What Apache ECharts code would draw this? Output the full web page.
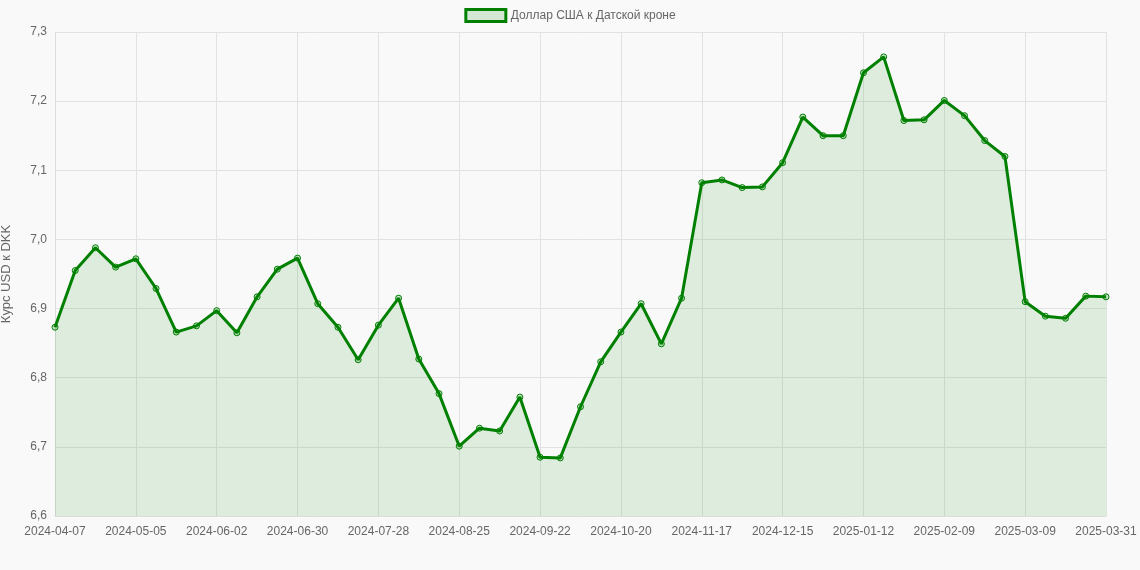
<!DOCTYPE html>
<html><head><meta charset="utf-8">
<script src="https://cdn.jsdelivr.net/npm/echarts@6/dist/echarts.min.js"></script>
<style>html,body{margin:0;background:#f9f9f9}#c{width:1140px;height:570px}</style>
</head><body><div id="c"></div>
<script>
const seriesName = 'Доллар США к Датской кроне';
const dates = [];
(function () {
  const d = new Date(Date.UTC(2024, 3, 7));
  for (let i = 0; i < 52; i++) {
    dates.push(new Date(d.getTime() + i * 7 * 864e5).toISOString().slice(0, 10));
  }
  dates.push('2025-03-31');
})();
const rates = [6.873,6.955,6.988,6.960,6.972,6.929,6.866,6.875,6.897,6.865,6.917,6.957,6.973,
  6.907,6.873,6.826,6.876,6.915,6.827,6.777,6.701,6.727,6.723,6.772,6.685,6.684,6.758,
  6.823,6.866,6.907,6.849,6.915,7.082,7.086,7.075,7.076,7.111,7.177,7.150,7.150,7.241,
  7.264,7.172,7.173,7.201,7.179,7.143,7.120,6.910,6.889,6.886,6.918,6.917];

const chart = echarts.init(document.getElementById('c'));
chart.setOption({
  backgroundColor: '#f9f9f9',
  textStyle: { fontFamily: 'Liberation Sans, Arial, sans-serif' },
  legend: {
    top: 3, left: 'center', itemWidth: 40, itemHeight: 12,
    textStyle: { color: '#666', fontSize: 12 },
    data: [{ name: seriesName, icon: 'rect', itemStyle: { color: 'rgba(0,128,0,0.15)', borderColor: '#008000', borderWidth: 3 } }]
  },
  grid: { left: 55, right: 34, top: 32, bottom: 54, outerBoundsMode: 'none', containLabel: false },
  xAxis: {
    type: 'category', data: dates, boundaryGap: false,
    axisLine: { lineStyle: { color: '#ddd' } },
    axisTick: { show: false },
    axisLabel: { color: '#666', fontSize: 12, interval: 3, margin: 10 },
    splitLine: { show: true, interval: 3, lineStyle: { color: '#e2e2e2' } }
  },
  yAxis: {
    type: 'value', min: 6.6, max: 7.3, interval: 0.1,
    name: 'Курс USD к DKK', nameLocation: 'middle', nameGap: 42,
    nameTextStyle: { color: '#666', fontSize: 13 },
    axisLine: { show: true, lineStyle: { color: '#ddd' } },
    axisLabel: { color: '#666', fontSize: 12, formatter: v => v.toFixed(1).replace('.', ',') },
    splitLine: { lineStyle: { color: '#e2e2e2' } }
  },
  series: [{
    name: seriesName, type: 'line', data: rates,
    symbol: 'circle', symbolSize: 6,
    itemStyle: { color: 'rgba(0,128,0,0.2)', borderColor: '#008000', borderWidth: 1 },
    lineStyle: { color: '#008000', width: 3 },
    areaStyle: { color: 'rgba(0,128,0,0.15)', origin: 'start' }
  }]
});
</script></body></html>
